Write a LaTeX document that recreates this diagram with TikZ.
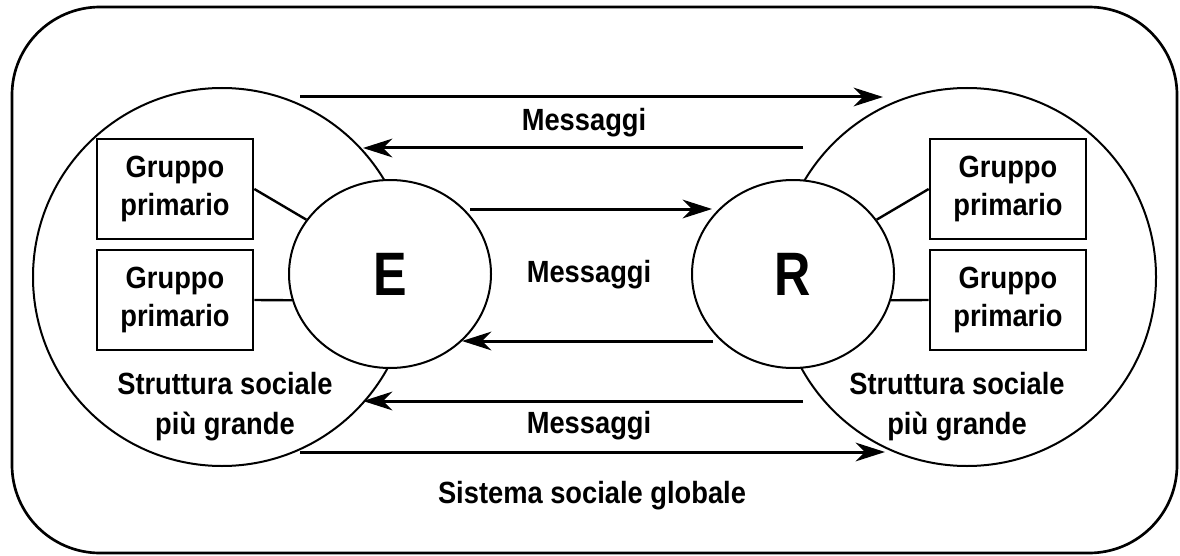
\documentclass[tikz,border=0pt]{standalone}
\usepackage{fontspec}
\setmainfont{Liberation Sans}[FakeStretch=0.89]
\newfontfamily\bigletter{Liberation Sans}[FakeStretch=0.82]
\usetikzlibrary{arrows.meta,shapes.geometric}

\tikzset{
  social/.style={draw, circle, line width=1.5pt, minimum size=283.5pt, inner sep=0pt},
  actor/.style={draw, ellipse, fill=white, line width=1.5pt, minimum width=151.5pt, minimum height=141pt, inner sep=0pt, font=\bigletter\bfseries\fontsize{46}{46}\selectfont},
  grpbox/.style={draw, fill=white, line width=2pt, minimum width=117pt, minimum height=75pt, inner sep=0pt, align=center, font=\bfseries\fontsize{23}{28.5}\selectfont},
  lbl/.style={inner sep=0pt, align=center, font=\bfseries\fontsize{23}{30}\selectfont},
  msg/.style={line width=2.25pt, -{Stealth[length=22pt,width=14pt,inset=7pt]}},
  tie/.style={line width=1.8pt}
}

\begin{document}
\begin{tikzpicture}[x=0.75pt,y=0.75pt,yscale=-1,xscale=1]
\useasboundingbox (0,0) rectangle (1180,556);

%Shape: Rounded Rectangle [global system]
\draw [line width=2pt, rounded corners=66pt] (12,7) rectangle (1177,553);

%Shape: Circle [larger social structures]
\node [social] (sL) at (222,277) {};
\node [social] (sR) at (967,277) {};

%Shape: Ellipse [E and R]
\node [actor] (E) at (390,274) {E};
\node [actor] (R) at (793,274) {R};

%Shape: Rectangle [primary groups]
\node [grpbox] (gL1) at (175,189) {Gruppo\\primario};
\node [grpbox] (gL2) at (175,300) {Gruppo\\primario};
\node [grpbox] (gR1) at (1008,189) {Gruppo\\primario};
\node [grpbox] (gR2) at (1008,300) {Gruppo\\primario};

%Straight Lines [groups to E and R]
\draw [tie] (gL1.east) -- (E.147);
\draw [tie] (gL2.east) -- (E.195);
\draw [tie] (gR1.west) -- (R.33);
\draw [tie] (gR2.west) -- (R.345);

%Arrow ends
\coordinate (hiGo) at (300,97);    \coordinate (hiGoEnd) at (883,97);
\coordinate (hiBack) at (803,148); \coordinate (hiBackEnd) at (363,148);
\coordinate (midGo) at (470,209);  \coordinate (midGoEnd) at (712,209);
\coordinate (midBack) at (713,341); \coordinate (midBackEnd) at (462,341);
\coordinate (loBack) at (803,401); \coordinate (loBackEnd) at (363,401);
\coordinate (loGo) at (300,452);   \coordinate (loGoEnd) at (885,452);

%Straight Lines [messages]
\draw [msg] (hiGo) -- (hiGoEnd);
\draw [msg] (hiBack) -- (hiBackEnd);
\draw [msg] (midGo) -- (midGoEnd);
\draw [msg] (midBack) -- (midBackEnd);
\draw [msg] (loBack) -- (loBackEnd);
\draw [msg] (loGo) -- (loGoEnd);

% Text Node
\node [lbl, anchor=base] (msgHi) at (584,131) {Messaggi};
% Text Node
\node [lbl, anchor=base] (msgMid) at (589,282) {Messaggi};
% Text Node
\node [lbl, anchor=base] (msgLo) at (589,433) {Messaggi};
% Text Node
\node [lbl] (strL) at (225,407) {Struttura sociale\\più grande};
% Text Node
\node [lbl] (strR) at (957,407) {Struttura sociale\\più grande};
% Text Node
\node [lbl, anchor=base] (sys) at (592,503) {Sistema sociale globale};

\end{tikzpicture}
\end{document}
